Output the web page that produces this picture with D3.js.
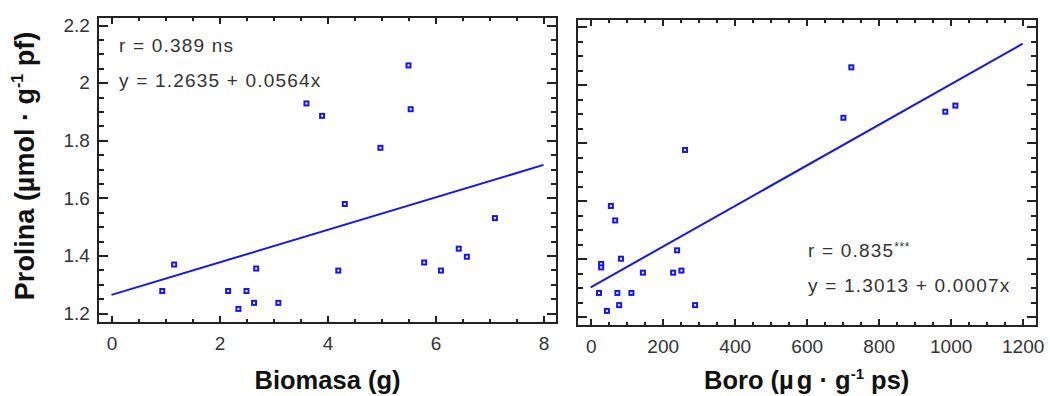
<!DOCTYPE html>
<html>
<head>
<meta charset="utf-8">
<script src="https://cdn.jsdelivr.net/npm/d3@7/dist/d3.min.js"></script>
<style>
  body { margin: 0; background: #fff; }
  svg { display: block; }
  text { font-family: "Liberation Sans", Arial, sans-serif; }
</style>
</head>
<body>
<svg id="chart" width="1050" height="396"></svg>
<script>
// Proline content against biomass and against boron content
const biomasa  = [0.94, 1.16, 2.16, 2.35, 2.50, 2.64, 2.68, 3.09, 3.61, 3.90, 4.98, 5.50, 5.54, 4.32, 4.20, 5.79, 6.10, 6.43, 6.58, 7.10];
const prolinaA = [1.277, 1.369, 1.277, 1.215, 1.277, 1.236, 1.355, 1.236, 1.928, 1.885, 1.774, 2.060, 1.908, 1.579, 1.348, 1.376, 1.348, 1.424, 1.396, 1.530];

const boro     = [56, 68, 29, 29, 84, 23, 74, 113, 45, 79, 145, 229, 252, 240, 290, 262, 702, 724, 985, 1013];
const prolinaB = [1.582, 1.532, 1.382, 1.370, 1.400, 1.282, 1.282, 1.282, 1.220, 1.240, 1.352, 1.352, 1.359, 1.429, 1.240, 1.775, 1.886, 2.060, 1.907, 1.928];

const prolinaTicks = [1.2, 1.4, 1.6, 1.8, 2.0, 2.2];
const biomasaTicks = [0, 2, 4, 6, 8];
const boroTicks    = [0, 200, 400, 600, 800, 1000, 1200];

// regression lines: [intercept, slope]
const fitA = [1.2635, 0.0564];
const fitB = [1.3013, 0.0007];

const statsA = ["r = 0.389 ns", "y = 1.2635 + 0.0564x"];
const statsB = ["r = 0.835", "***", "y = 1.3013 + 0.0007x"];

const svg = d3.select("#chart");
const BLUE = "#1414f5";
const INK = "#222";
const fmt = d => String(+d.toFixed(2));

function range(a, b, step) {
  const out = [];
  for (let v = a; v <= b + 1e-9; v += step) out.push(+v.toFixed(4));
  return out;
}

function panel(o) {
  const g = svg.append("g");
  const x = d3.scaleLinear().domain(o.xDomain).range([o.left, o.right]);
  const y = d3.scaleLinear().domain(o.yDomain).range([o.bottom, o.top]);

  const xMinor = range(o.xTicks[0], o.xTicks[o.xTicks.length - 1], o.xMinorStep).filter(v => !o.xTicks.includes(v));
  const yMinor = range(o.yTicks[0], o.yTicks[o.yTicks.length - 1], 0.05).filter(v => !o.yTicks.some(t => Math.abs(t - v) < 1e-6));

  function addAxis(gen, tx, ty, values, size, labels, pad) {
    const a = g.append("g").attr("transform", `translate(${tx},${ty})`)
      .call(gen.tickValues(values).tickSize(-size).tickSizeOuter(0)
        .tickPadding(pad || 3).tickFormat(labels ? fmt : ""));
    a.select(".domain").remove();
    a.selectAll(".tick line").attr("stroke", INK).attr("stroke-width", 2).attr("shape-rendering", "crispEdges");
    a.selectAll(".tick text").attr("fill", "#333").attr("font-size", 19)
      .attr("font-family", "'Liberation Sans', Arial, sans-serif");
    return a;
  }

  // bottom & top
  addAxis(d3.axisBottom(x), 0, o.bottom, o.xTicks, 7, true, 13.5);
  addAxis(d3.axisBottom(x), 0, o.bottom, xMinor, 4, false);
  addAxis(d3.axisTop(x), 0, o.top, o.xTicks, 7, false);
  addAxis(d3.axisTop(x), 0, o.top, xMinor, 4, false);
  // left & right
  addAxis(d3.axisLeft(y), o.left, 0, o.yTicks, 10, o.yLabels, 8.5);
  addAxis(d3.axisLeft(y), o.left, 0, yMinor, 6, false);
  addAxis(d3.axisRight(y), o.right, 0, o.yTicks, 10, false);
  addAxis(d3.axisRight(y), o.right, 0, yMinor, 6, false);

  // frame
  g.append("rect")
    .attr("x", o.left).attr("y", o.top)
    .attr("width", o.right - o.left).attr("height", o.bottom - o.top)
    .attr("fill", "none").attr("stroke", INK).attr("stroke-width", 2)
    .attr("shape-rendering", "crispEdges");

  // regression line
  const x0 = o.xTicks[0], x1 = o.xTicks[o.xTicks.length - 1];
  g.append("path")
    .datum([x0, x1])
    .attr("d", d3.line().x(d => x(d)).y(d => y(o.fit[0] + o.fit[1] * d)))
    .attr("fill", "none").attr("stroke", BLUE).attr("stroke-width", 2);

  // points
  g.selectAll("rect.pt").data(o.xs.map((v, i) => [v, o.ys[i]])).join("rect")
    .attr("class", "pt")
    .attr("x", d => x(d[0]) - 2).attr("y", d => y(d[1]) - 2)
    .attr("width", 4).attr("height", 4)
    .attr("fill", "#fff").attr("stroke", BLUE).attr("stroke-width", 2);

  return g;
}

const pA = panel({
  left: 98.3, right: 556.7, top: 16.7, bottom: 323.3,
  xDomain: [-0.244, 8.244], yDomain: [1.165, 2.229],
  xTicks: biomasaTicks, xMinorStep: 0.5, yTicks: prolinaTicks, yLabels: true,
  xs: biomasa, ys: prolinaA, fit: fitA
});

const pB = panel({
  left: 576.7, right: 1036.7, top: 19, bottom: 325.7,
  xDomain: [-38.9, 1238.9], yDomain: [1.169, 2.2266],
  xTicks: boroTicks, xMinorStep: 50, yTicks: prolinaTicks, yLabels: false,
  xs: boro, ys: prolinaB, fit: fitB
});

// statistics
function stat(x, yb, txt, g) {
  return g.append("text").attr("x", x).attr("y", yb)
    .attr("font-size", 19).attr("letter-spacing", 1.2).attr("fill", "#333").text(txt);
}
stat(119, 51.7, statsA[0], pA);
stat(119, 86.7, statsA[1], pA);
const rB = stat(808, 257.3, statsB[0], pB);
rB.append("tspan").attr("font-size", 12).attr("dy", -6).attr("letter-spacing", 0.5).text(statsB[1]);
stat(808, 292.3, statsB[2], pB);

// axis titles
svg.append("text")
  .attr("x", 327.5).attr("y", 388.5)
  .attr("text-anchor", "middle").attr("font-weight", "bold").attr("font-size", 25.5)
  .attr("fill", "#111").text("Biomasa (g)");

const tB = svg.append("text")
  .attr("x", 806.7).attr("y", 388.5)
  .attr("text-anchor", "middle").attr("font-weight", "bold").attr("font-size", 25.5)
  .attr("fill", "#111");
tB.append("tspan").text("Boro (µ");
tB.append("tspan").attr("dx", 3).text("g · g");
tB.append("tspan").attr("font-size", 15).attr("dy", -10).text("-1");
tB.append("tspan").attr("dy", 10).text(" ps)");

const tY = svg.append("text")
  .attr("transform", "translate(33.5,166) rotate(-90)")
  .attr("text-anchor", "middle").attr("font-weight", "bold").attr("font-size", 27)
  .attr("fill", "#111");
tY.append("tspan").text("Prolina (µmol · g");
tY.append("tspan").attr("font-size", 16).attr("dy", -11).text("-1");
tY.append("tspan").attr("dy", 11).text(" pf)");
</script>
</body>
</html>
